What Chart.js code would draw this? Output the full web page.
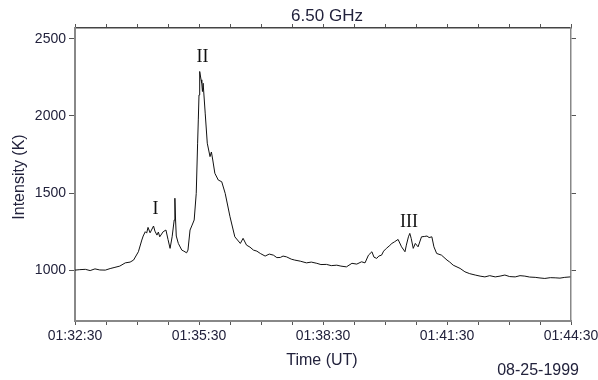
<!DOCTYPE html>
<html>
<head>
<meta charset="utf-8">
<script src="https://cdn.jsdelivr.net/npm/chart.js@4"></script>
<style>
  body { margin: 0; background: #fff; }
</style>
</head>
<body>
<canvas id="fluxChart" width="598" height="380"></canvas>
<script>
// seconds after 01:32:30 UT
const times = [0, 7, 15, 22, 29, 36, 44, 51, 58, 65, 73, 80, 85, 92, 97, 99, 102, 104, 106, 109,
  114, 116, 119, 121, 123, 128, 132, 135, 138, 141, 144, 145, 146, 147, 150, 155, 158, 162, 164, 167,
  170, 173, 176, 178, 179, 180, 181, 183, 184, 185, 186, 189, 192, 196, 198, 200, 203, 208, 213, 218,
  225, 232, 240, 244, 249, 254, 259, 264, 269, 276, 282, 288, 293, 298, 302, 307, 314, 319, 327, 336,
  343, 351, 357, 365, 372, 380, 386, 394, 402, 409, 416, 421, 426, 431, 434, 438, 441, 445, 448, 452,
  456, 460, 464, 469, 474, 479, 481, 484, 486, 488, 491, 494, 498, 503, 507, 511, 514, 518, 521, 525,
  532, 540, 544, 549, 559, 566, 573, 581, 588, 595, 602, 610, 617, 624, 631, 639, 646, 653, 660, 668,
  675, 682, 690, 697, 704, 711, 719];
// brightness temperature (K)
const intensity = [1000, 1003, 1005, 997, 1008, 1001, 1000, 1010, 1018, 1026, 1047, 1052, 1065, 1119, 1195, 1221, 1249, 1240, 1277, 1242,
  1286, 1253, 1227, 1247, 1216, 1249, 1260, 1199, 1141, 1216, 1325, 1466, 1325, 1221, 1173, 1130, 1123, 1112, 1130, 1260,
  1292, 1325, 1498, 1823, 1974, 2136, 2288, 2234, 2212, 2158, 2212, 2018, 1823, 1736, 1766, 1714, 1628, 1584, 1573, 1498,
  1346, 1216, 1173, 1206, 1162, 1149, 1130, 1123, 1108, 1091, 1104, 1097, 1081, 1082, 1091, 1086, 1071, 1065, 1058, 1047,
  1052, 1044, 1036, 1037, 1029, 1032, 1026, 1021, 1044, 1039, 1054, 1047, 1097, 1119, 1084, 1076, 1091, 1097, 1123, 1141,
  1156, 1173, 1184, 1199, 1151, 1119, 1162, 1216, 1238, 1206, 1141, 1173, 1151, 1216, 1218, 1221, 1211, 1216, 1151, 1108,
  1097, 1065, 1052, 1032, 1011, 989, 977, 968, 961, 956, 964, 956, 961, 968, 958, 956, 964, 961, 955, 953,
  949, 946, 951, 950, 948, 953, 956];

const yTicks = [1000, 1500, 2000, 2500];
const startSec = 1 * 3600 + 32 * 60 + 30;
const peakNames = ['I', 'II', 'III'];
const peakTimes = [117, 185, 485];
const peakLevels = [1364, 2349, 1281];

function fmtTime(t) {
  const s = startSec + t;
  const pad = n => String(n).padStart(2, '0');
  return pad(Math.floor(s / 3600)) + ':' + pad(Math.floor(s / 60) % 60) + ':' + pad(s % 60);
}

const points = times.map((t, i) => ({ x: t, y: intensity[i] }));
const textColor = '#22223c';
const sans = '"Liberation Sans", Arial, sans-serif';

// fixed box sizes so the plot sits where the original one does
function fitBox(size, horizontal) {
  return function(scale) {
    if (horizontal) scale.height = size; else scale.width = size;
    scale.paddingLeft = 0;
    scale.paddingRight = 0;
    scale.paddingTop = 0;
    scale.paddingBottom = 0;
  };
}

function setYTicks(scale) {
  scale.ticks = yTicks.map(v => ({ value: v }));
}

const labelPlugin = {
  id: 'labels',
  afterDraw(chart) {
    const ctx = chart.ctx;
    const x = chart.scales.x, y = chart.scales.y;
    ctx.save();
    ctx.fillStyle = textColor;
    ctx.textAlign = 'center';
    ctx.textBaseline = 'alphabetic';
    ctx.font = '17px ' + sans;
    ctx.fillText('6.50 GHz', 327, 21);
    ctx.font = '16px ' + sans;
    ctx.fillText('Time (UT)', 322, 365);
    ctx.textAlign = 'right';
    ctx.fillText('08-25-1999', 579, 375);
    ctx.save();
    ctx.translate(24, 177);
    ctx.rotate(-Math.PI / 2);
    ctx.textAlign = 'center';
    ctx.fillText('Intensity (K)', 0, 0);
    ctx.restore();
    // peak labels
    ctx.fillStyle = '#111';
    ctx.textAlign = 'center';
    ctx.font = '18px "Liberation Serif", "DejaVu Serif", serif';
    peakNames.forEach((name, i) => {
      ctx.fillText(name, x.getPixelForValue(peakTimes[i]), y.getPixelForValue(peakLevels[i]));
    });
    ctx.restore();
  }
};

const ctx = document.getElementById('fluxChart').getContext('2d');
const fluxChart = new Chart(ctx, {
  type: 'line',
  data: {
    datasets: [{
      label: '6.50 GHz',
      data: points,
      borderColor: '#111',
      borderWidth: 1,
      pointRadius: 0,
      tension: 0,
      fill: false
    }]
  },
  options: {
    responsive: false,
    animation: false,
    layout: { padding: 0 },
    plugins: {
      legend: { display: false },
      tooltip: { enabled: false }
    },
    scales: {
      x: {
        type: 'linear',
        position: 'bottom',
        min: 0,
        max: 720,
        afterFit: fitBox(59, true),
        ticks: {
          stepSize: 45,
          autoSkip: false,
          maxRotation: 0,
          padding: 3,
          color: textColor,
          font: { family: sans, size: 14 },
          callback: v => (v % 180 === 0 ? fmtTime(v) : '')
        },
        grid: { drawOnChartArea: false, tickLength: 4, color: '#555' },
        border: { color: '#888', width: 2 }
      },
      xTop: {
        type: 'linear',
        position: 'top',
        min: 0,
        max: 720,
        afterFit: fitBox(28, true),
        ticks: { stepSize: 45, autoSkip: false, display: false },
        grid: { drawOnChartArea: false, tickLength: 4, color: '#555' },
        border: { color: '#444', width: 1.5 }
      },
      y: {
        type: 'linear',
        position: 'left',
        min: 670,
        max: 2570,
        afterFit: fitBox(75, false),
        afterBuildTicks: setYTicks,
        ticks: {
          padding: 3,
          color: textColor,
          font: { family: sans, size: 14 },
          callback: v => String(v)
        },
        grid: { drawOnChartArea: false, tickLength: 6, color: '#555' },
        border: { color: '#888', width: 2 }
      },
      yRight: {
        type: 'linear',
        position: 'right',
        min: 670,
        max: 2570,
        afterFit: fitBox(27, false),
        afterBuildTicks: setYTicks,
        ticks: { display: false },
        grid: { drawOnChartArea: false, tickLength: 5, color: '#555' },
        border: { color: '#888', width: 1.5 }
      }
    }
  },
  plugins: [labelPlugin]
});
</script>
</body>
</html>
